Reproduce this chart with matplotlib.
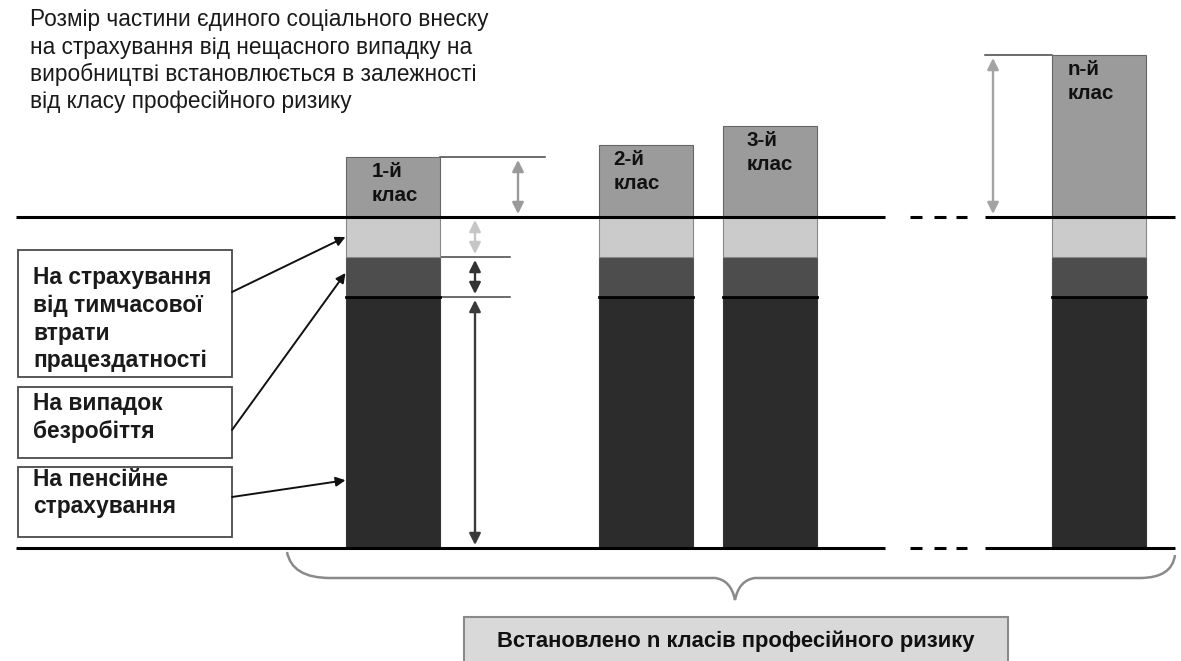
import numpy as np
import matplotlib
matplotlib.use("Agg")
from matplotlib import pyplot as plt
from matplotlib.patches import Rectangle, PathPatch
from matplotlib.path import Path

plt.rcParams['font.family'] = ['Liberation Sans', 'DejaVu Sans']

# data: contribution parts per risk class (arbitrary units)
classes = ['1-й\nклас', '2-й\nклас', '3-й\nклас', 'n-й\nклас']
pension = [25.1, 25.1, 25.1, 25.1]
unemployment = [4.0, 4.0, 4.0, 4.0]
temporary = [4.0, 4.0, 4.0, 4.0]
accident = [6.0, 7.2, 9.1, 16.2]

title_lines = ['Розмір частини єдиного соціального внеску',
               'на страхування від нещасного випадку на',
               'виробництві встановлюється в залежності',
               'від класу професійного ризику']
box_texts = [['На страхування', 'від тимчасової', 'втрати', 'працездатності'],
             ['На випадок', 'безробіття'],
             ['На пенсійне', 'страхування']]
bottom_text = 'Встановлено n класів професійного ризику'

# layout (pixels)
W, H = 1181, 661
BASE = 548.0
SCALE = 10.0
xpos = [392.5, 645.5, 769.5, 1098.5]
bw = 94


def Y(py):
    return (BASE - py) / SCALE


fig = plt.figure(figsize=(W / 100, H / 100), dpi=100)
ax = fig.add_axes([0, 0, 1, 1])
ax.set_xlim(0, W)
ax.set_ylim(Y(H), Y(0))
ax.axis('off')

pension = np.array(pension)
unemployment = np.array(unemployment)
temporary = np.array(temporary)
accident = np.array(accident)
b1 = pension
b2 = b1 + unemployment
b3 = b2 + temporary
tops = b3 + accident

ax.bar(xpos, pension, bw, color='#2c2c2c', edgecolor='#333333', lw=0.8, zorder=2)
ax.bar(xpos, unemployment, bw, bottom=b1, color='#4d4d4d', edgecolor='#555555', lw=0.8, zorder=2)
ax.bar(xpos, temporary, bw, bottom=b2, color='#cbcbcb', edgecolor='#888888', lw=0.8, zorder=2)
ax.bar(xpos, accident, bw, bottom=b3, color='#9b9b9b', edgecolor='#666666', lw=0.8, zorder=2)
for x, y in zip(xpos, b1):
    ax.plot([x - bw / 2, x + bw / 2], [y, y], color='black', lw=2, zorder=3)

# class labels
offs = [26, 15, 24, 16]
for x, t, lab, o in zip(xpos, tops, classes, offs):
    l1, l2 = lab.split('\n')
    ax.text(x - bw / 2 + o, t - 1.5, l1, fontsize=14.8, fontweight='bold',
            va='center', ha='left', color='#111111', zorder=4)
    ax.text(x - bw / 2 + o, t - 3.9, l2, fontsize=14.8, fontweight='bold',
            va='center', ha='left', color='#111111', zorder=4)

# main horizontal lines with dashed gaps
base_line = b3[0]
for yy in [base_line, 0]:
    ax.plot([16, 885], [yy, yy], color='black', lw=2.2, zorder=3, solid_capstyle='butt')
    for a, b in [(910, 922), (934, 946), (956, 967)]:
        ax.plot([a, b], [yy, yy], color='black', lw=2.2, zorder=3, solid_capstyle='butt')
    ax.plot([985, 1175], [yy, yy], color='black', lw=2.2, zorder=3, solid_capstyle='butt')

# thin guide lines near first and last bars
x1r = xpos[0] + bw / 2
ax.plot([x1r, 545], [tops[0], tops[0]], color='#444444', lw=1.1, zorder=1)
ax.plot([x1r, 510], [b2[0], b2[0]], color='#444444', lw=1.1, zorder=1)
ax.plot([x1r, 510], [b1[0], b1[0]], color='#444444', lw=1.1, zorder=1)
xnl = xpos[3] - bw / 2
ax.plot([985, xnl], [tops[3], tops[3]], color='#444444', lw=1.1, zorder=1)

# double arrows showing segment sizes
pad = 0.3


def darrow(x, y0, y1, c, ms=17):
    ax.annotate('', xy=(x, y0 + pad), xytext=(x, y1 - pad),
                arrowprops=dict(arrowstyle='<|-|>', color=c, lw=1.7,
                                mutation_scale=ms, shrinkA=0, shrinkB=0), zorder=3)


darrow(518, b3[0], tops[0], '#9a9a9a')
darrow(475, b2[0], b3[0], '#c6c6c6')
darrow(475, b1[0], b2[0], '#333333')
darrow(475, 0, b1[0], '#3a3a3a')
darrow(993, b3[3], tops[3], '#a3a3a3')

# title
for i, line in enumerate(title_lines):
    ax.text(30, Y(20 + 27.3 * i), line, fontsize=16.3, va='center', ha='left', color='#1a1a1a')

# legend boxes
boxes = [(250, 377), (387, 458), (467, 537)]
line_y = [[278, 306, 334, 361], [404, 432], [480, 507]]
for (t, b), lines, ys in zip(boxes, box_texts, line_y):
    ax.add_patch(Rectangle((18, Y(b)), 214, Y(t) - Y(b), fill=False,
                           edgecolor='#4a4a4a', lw=1.3, zorder=3))
    for line, yy in zip(lines, ys):
        ax.text(33, Y(yy), line, fontsize=16.4, fontweight='bold', va='center',
                ha='left', color='#1a1a1a')

# pointers from boxes to segments
targets = [b2[0] + 0.5 * temporary[0], b1[0] + 0.6 * unemployment[0], 0.27 * pension[0]]
starts = [292, 430, 497]
for sy, ty in zip(starts, targets):
    ax.annotate('', xy=(xpos[0] - bw / 2, ty), xytext=(232, Y(sy)),
                arrowprops=dict(arrowstyle='-|>', color='#111111', lw=1.4,
                                mutation_scale=14, shrinkA=0, shrinkB=0), zorder=4)

# curly brace under the bars
verts = [(287, 552), (292, 578), (330, 578),
         (715, 578),
         (731, 580), (735, 600),
         (739, 580), (755, 578),
         (1140, 578),
         (1172, 578), (1175, 555)]
codes = [Path.MOVETO, Path.CURVE3, Path.CURVE3, Path.LINETO,
         Path.CURVE3, Path.CURVE3, Path.CURVE3, Path.CURVE3,
         Path.LINETO, Path.CURVE3, Path.CURVE3]
verts = [(x, Y(y)) for x, y in verts]
ax.add_patch(PathPatch(Path(verts, codes), fill=False, edgecolor='#8a8a8a', lw=1.8, zorder=2))

# bottom caption box
ax.add_patch(Rectangle((464, Y(H + 5)), 544, Y(617) - Y(H + 5), facecolor='#d9d9d9',
                       edgecolor='#8a8a8a', lw=1.5, zorder=2))
ax.text(736, Y(641), bottom_text, fontsize=15.8, fontweight='bold', va='center',
        ha='center', color='#111111')

fig.savefig('out.png', dpi=100, facecolor='white')
